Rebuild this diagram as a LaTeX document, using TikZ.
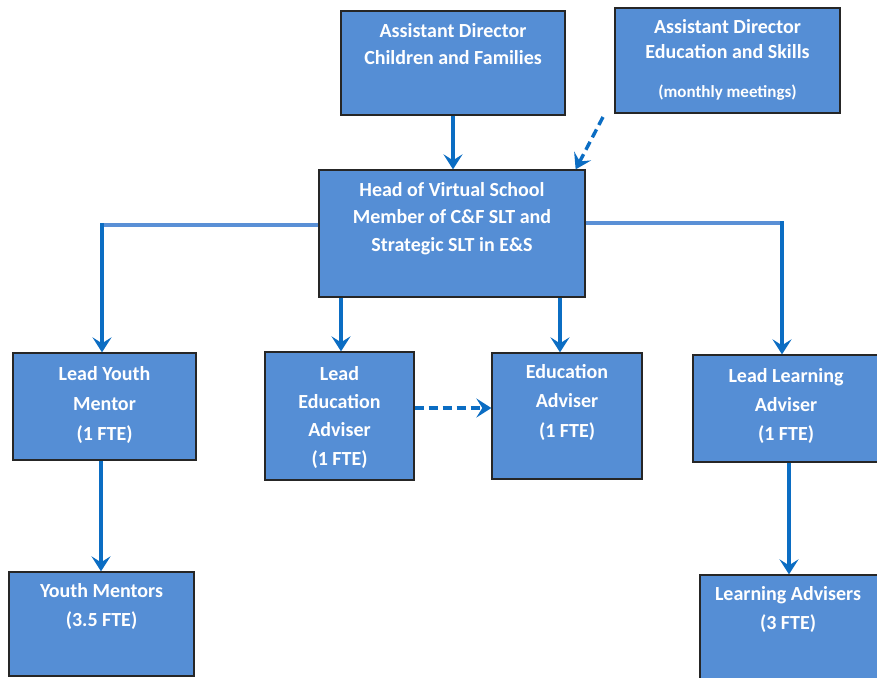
\documentclass[tikz,border=0pt]{standalone}
\usepackage{fontspec}
\setmainfont{Carlito}
\usetikzlibrary{arrows.meta}
\definecolor{boxfill}{HTML}{558ED5}
\definecolor{linkdark}{HTML}{0B6DC3}
\definecolor{linklight}{HTML}{5A90D6}
\begin{document}
\begin{tikzpicture}[x=1pt,y=-1pt,
  orgbox/.style={draw=black!85, line width=1.3pt, fill=boxfill, inner sep=0pt},
  boxtext/.style={anchor=north, text=white, align=center, inner sep=0pt},
  link/.style={draw=linkdark, line width=3.4pt, -{Stealth[length=15pt,width=19pt,inset=6pt]}},
  hlink/.style={draw=linklight, line width=3.8pt},
  dlink/.style={link, dash pattern=on 9pt off 5pt}]
\useasboundingbox (0,0) rectangle (877,677);
\fill[white] (0,0) rectangle (877,677);
% boxes
\node[orgbox, minimum width=224pt, minimum height=104pt] (adcf) at (453,63) {};
\node[orgbox, minimum width=225pt, minimum height=105pt] (adse) at (727.5,60.5) {};
\node[orgbox, minimum width=266pt, minimum height=127pt] (head) at (452,233.5) {};
\node[orgbox, minimum width=183pt, minimum height=107pt] (lym) at (104.5,406.5) {};
\node[orgbox, minimum width=149pt, minimum height=128pt] (lea) at (339.5,416) {};
\node[orgbox, minimum width=150pt, minimum height=126pt] (ea) at (567,416) {};
\node[orgbox, minimum width=186pt, minimum height=107pt] (lla) at (786,408.5) {};
\node[orgbox, minimum width=185pt, minimum height=104pt] (ym) at (101.5,624) {};
\node[orgbox, minimum width=180pt, minimum height=110pt] (la) at (790,630) {};
% texts
\node[boxtext, font=\bfseries\fontsize{20}{27}\selectfont] (tadcf) at (453,23) {Assistant Director\\Children and Families};
\node[boxtext, font=\bfseries\fontsize{20}{25}\selectfont] (tadse) at (727.5,19) {Assistant Director\\Education and Skills\\[14pt]{\fontsize{17}{17}\selectfont (monthly meetings)}};
\node[boxtext, font=\bfseries\fontsize{20}{27.5}\selectfont] (thead) at (452,182) {Head of Virtual School\\Member of C\&F SLT and\\Strategic SLT in E\&S};
\node[boxtext, font=\bfseries\fontsize{20}{30}\selectfont] (tlym) at (104.5,366) {Lead Youth\\Mentor\\(1 FTE)};
\node[boxtext, font=\bfseries\fontsize{20}{28.3}\selectfont] (tlea) at (339.5,366) {Lead\\Education\\Adviser\\(1 FTE)};
\node[boxtext, font=\bfseries\fontsize{20}{29.5}\selectfont] (tea) at (567,364) {Education\\Adviser\\(1 FTE)};
\node[boxtext, font=\bfseries\fontsize{20}{29}\selectfont] (tlla) at (786,368) {Lead Learning\\Adviser\\(1 FTE)};
\node[boxtext, font=\bfseries\fontsize{20}{29}\selectfont] (tym) at (101.5,583) {Youth Mentors\\(3.5 FTE)};
\node[boxtext, font=\bfseries\fontsize{20}{29}\selectfont] (tla) at (788,586) {Learning Advisers\\(3 FTE)};
% connector helpers
\coordinate (dstart) at (603,117);
\coordinate (lcorner) at (102,225);
\coordinate (rcorner) at (782,223);
\coordinate (x1) at (341,0);
\coordinate (x2) at (560,0);
\coordinate (x3) at (101,0);
\coordinate (x4) at (789,0);
\coordinate (y1) at (0,408);
% connectors
\draw[link] (adcf.south) -- (adcf.south |- head.north);
\draw[dlink] (dstart) -- ([xshift=-10pt]head.north east);
\draw[hlink] (head.west |- lcorner) -- ([xshift=-1.7pt]lcorner);
\draw[link] ([yshift=1.9pt]lcorner) -- (lcorner |- lym.north);
\draw[hlink] (head.east |- rcorner) -- ([xshift=1.7pt]rcorner);
\draw[link] ([yshift=1.9pt]rcorner) -- (rcorner |- lla.north);
\draw[link] (x1 |- head.south) -- (x1 |- lea.north);
\draw[link] (x2 |- head.south) -- (x2 |- ea.north);
\draw[dlink] (lea.east |- y1) -- (ea.west |- y1);
\draw[link] (x3 |- lym.south) -- (x3 |- ym.north);
\draw[link] (x4 |- lla.south) -- (x4 |- la.north);
\end{tikzpicture}
\end{document}
